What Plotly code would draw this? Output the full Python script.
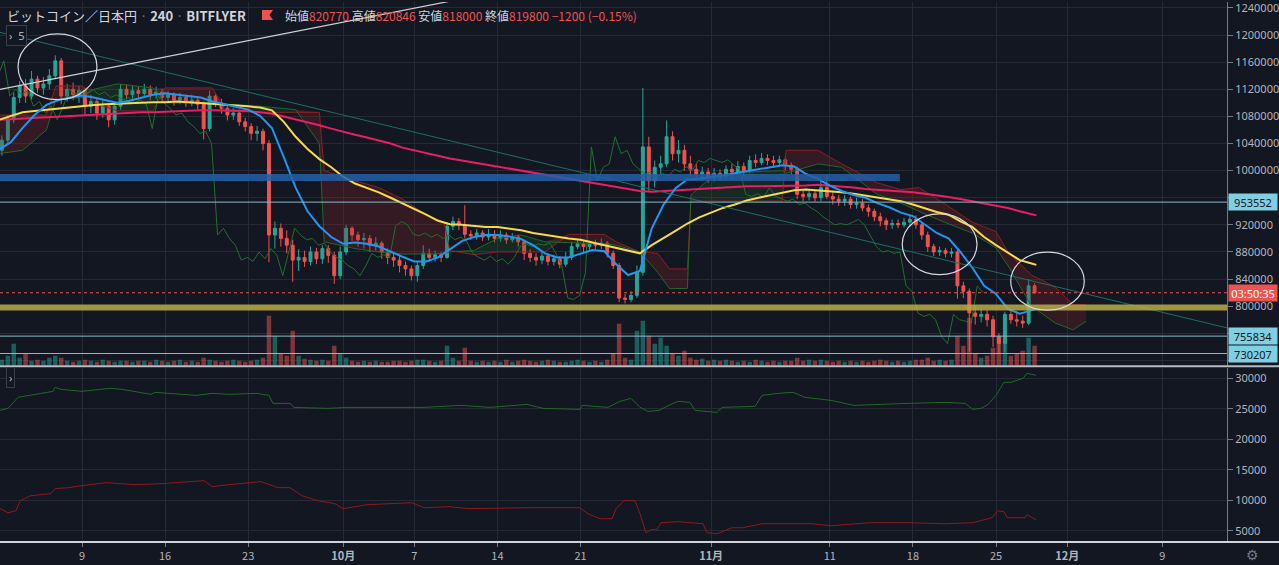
import numpy as np
import pandas as pd
import plotly.graph_objects as go

# ---------------- DATA (prices in thousand JPY) ----------------
# 12-hour candles starting 2019-09-02 00:00 (JST)
opens = [1030, 1045, 1075, 1108, 1125, 1110, 1135, 1122, 1128, 1140,
         1162, 1110, 1120, 1112, 1118, 1095, 1102, 1085, 1095, 1075,
         1095, 1120, 1112, 1118, 1114, 1120, 1112, 1116, 1108, 1112,
         1104, 1108, 1100, 1104, 1098, 1062, 1110, 1100, 1092, 1082,
         1085, 1072, 1065, 1055, 1058, 1040, 905, 915, 900, 890,
         868, 872, 866, 880, 870, 885, 875, 845, 880, 915,
         905, 898, 900, 890, 893, 880, 872, 868, 860, 855,
         845, 860, 878, 872, 876, 872, 918, 925, 920, 906,
         904, 908, 902, 906, 900, 905, 898, 902, 895, 878,
         872, 868, 874, 866, 870, 862, 872, 888, 892, 888,
         892, 890, 893, 878, 860, 812, 810, 816, 850, 1035,
         985, 1005, 1010, 1050, 1025, 1030, 1010, 1002, 995, 998,
         990, 996, 992, 1002, 998, 1006, 1000, 1015, 1012, 1018,
         1015, 1012, 1016, 1008, 1002, 965, 962, 966, 960, 975,
         962, 958, 955, 958, 950, 952, 945, 940, 932, 926,
         920, 922, 920, 924, 928, 920, 905, 888, 880, 882,
         878, 880, 830, 822, 790, 785, 788, 780, 755, 745,
         788, 780, 778, 775, 830]
highs = [1052, 1082, 1115, 1132, 1135, 1147, 1140, 1138, 1150, 1170,
         1166, 1128, 1130, 1125, 1122, 1112, 1108, 1105, 1100, 1102,
         1128, 1127, 1125, 1124, 1128, 1126, 1124, 1120, 1118, 1116,
         1115, 1112, 1112, 1108, 1102, 1118, 1114, 1106, 1098, 1092,
         1090, 1078, 1070, 1066, 1062, 1045, 925, 922, 912, 898,
         884, 882, 888, 886, 890, 890, 880, 888, 920, 918,
         910, 908, 905, 902, 896, 885, 880, 875, 866, 860,
         866, 890, 885, 882, 880, 924, 932, 930, 949, 912,
         914, 912, 914, 912, 912, 909, 908, 906, 898, 884,
         878, 880, 878, 876, 874, 880, 895, 898, 896, 897,
         898, 900, 896, 882, 864, 818, 822, 860, 1122, 1050,
         1015, 1022, 1074, 1058, 1045, 1038, 1022, 1010, 1006, 1004,
         1004, 1002, 1008, 1010, 1014, 1012, 1022, 1024, 1026, 1024,
         1022, 1022, 1020, 1012, 1006, 970, 972, 970, 990, 993,
         968, 964, 964, 962, 960, 958, 950, 944, 938, 930,
         928, 928, 930, 934, 934, 924, 910, 892, 888, 886,
         886, 884, 836, 826, 798, 796, 794, 786, 760, 792,
         795, 790, 786, 840, 834]
lows = [1022, 1040, 1070, 1100, 1100, 1105, 1115, 1112, 1120, 1135,
        1098, 1102, 1104, 1100, 1082, 1085, 1075, 1078, 1064, 1068,
        1090, 1105, 1106, 1105, 1108, 1104, 1106, 1100, 1100, 1096,
        1098, 1094, 1095, 1090, 1046, 1058, 1094, 1084, 1074, 1075,
        1066, 1058, 1045, 1044, 1030, 865, 885, 888, 878, 836,
        852, 858, 860, 862, 862, 864, 833, 840, 875, 896,
        888, 885, 880, 882, 870, 862, 858, 850, 845, 838,
        836, 855, 866, 866, 865, 870, 912, 912, 900, 898,
        898, 896, 897, 894, 895, 892, 894, 888, 868, 865,
        860, 862, 860, 860, 856, 858, 868, 884, 880, 882,
        884, 884, 872, 855, 806, 804, 806, 812, 845, 970,
        975, 995, 1005, 1015, 1012, 1000, 992, 985, 985, 982,
        984, 985, 988, 990, 994, 992, 996, 1005, 1008, 1008,
        1004, 1006, 1000, 995, 958, 955, 956, 954, 955, 958,
        950, 948, 948, 944, 944, 940, 932, 925, 918, 912,
        914, 915, 916, 918, 914, 898, 880, 874, 874, 872,
        872, 811, 812, 733, 773, 776, 770, 740, 730, 732,
        774, 770, 768, 772, 818]
closes = [1045, 1075, 1108, 1125, 1110, 1135, 1122, 1128, 1140, 1162,
          1110, 1120, 1112, 1118, 1095, 1102, 1085, 1095, 1075, 1095,
          1120, 1112, 1118, 1114, 1120, 1112, 1116, 1108, 1112, 1104,
          1108, 1100, 1104, 1098, 1062, 1110, 1100, 1092, 1082, 1085,
          1072, 1065, 1055, 1058, 1040, 905, 915, 900, 890, 868,
          872, 866, 880, 870, 885, 875, 845, 880, 915, 905,
          898, 900, 890, 893, 880, 872, 868, 860, 855, 845,
          860, 878, 872, 876, 872, 918, 925, 920, 906, 904,
          908, 902, 906, 900, 905, 898, 902, 895, 878, 872,
          868, 874, 866, 870, 862, 872, 888, 892, 888, 892,
          890, 893, 878, 860, 812, 810, 816, 850, 1035, 985,
          1005, 1010, 1050, 1025, 1030, 1010, 1002, 995, 998, 990,
          996, 992, 1002, 998, 1006, 1000, 1015, 1012, 1018, 1015,
          1012, 1016, 1008, 1002, 965, 962, 966, 960, 975, 962,
          958, 955, 958, 950, 952, 945, 940, 932, 926, 920,
          922, 920, 924, 928, 920, 905, 888, 880, 882, 878,
          880, 830, 822, 790, 785, 788, 780, 755, 745, 788,
          780, 778, 775, 830, 819.8]
# relative volume per bar
volumes = [6, 10, 22, 8, 12, 5, 6, 5, 8, 10,
           8, 5, 4, 5, 6, 5, 4, 6, 5, 4,
           5, 5, 4, 5, 5, 4, 6, 5, 4, 5,
           6, 4, 5, 4, 8, 6, 5, 4, 5, 6,
           5, 4, 5, 6, 8, 50, 30, 12, 10, 35,
           10, 7, 6, 5, 6, 5, 20, 12, 8, 5,
           4, 5, 4, 5, 4, 4, 5, 5, 4, 5,
           6, 6, 5, 4, 5, 20, 8, 5, 18, 5,
           4, 5, 4, 5, 4, 6, 4, 5, 6, 5,
           4, 5, 6, 5, 4, 4, 5, 6, 5, 4,
           5, 4, 6, 12, 42, 8, 6, 35, 45, 30,
           22, 28, 20, 12, 10, 15, 8, 6, 7, 5,
           6, 5, 6, 5, 4, 5, 4, 6, 5, 4,
           5, 4, 5, 5, 8, 5, 6, 5, 6, 5,
           4, 5, 4, 5, 4, 5, 4, 5, 6, 5,
           4, 5, 4, 5, 6, 6, 8, 5, 6, 5,
           6, 30, 20, 48, 12, 8, 10, 18, 30, 25,
           10, 12, 15, 28, 20]

# moving averages (days after 2019-09-09)
ma_days = list(range(-7, 81)) + [80.4]
ema_fast = [1031, 1042, 1063, 1082, 1097, 1104, 1108,
            1111, 1108, 1104, 1100, 1103, 1108, 1112, 1114, 1112, 1111,
            1108, 1102, 1098, 1094, 1090, 1081, 1063, 1020, 975, 940,
            918, 902, 892, 894, 892, 888, 880, 873, 866, 866,
            872, 884, 896, 902, 905, 905, 903, 899, 890, 878,
            872, 872, 878, 883, 881, 862, 846, 852, 915, 950,
            974, 987, 988, 990, 993, 996, 999, 1002, 1005, 1008,
            1006, 995, 988, 978, 970, 964, 960, 952, 946, 938,
            933, 920, 908, 900, 880, 857, 830, 818, 796, 789,
            794, 796]
ma_mid = [1075, 1080, 1086, 1088, 1090, 1092, 1093,
          1095, 1097, 1098, 1099, 1100, 1100, 1101, 1101, 1102, 1101,
          1100, 1099, 1098, 1097, 1095, 1093, 1089, 1072, 1050, 1032,
          1017, 1005, 991, 981, 975, 968, 960, 952, 943, 935,
          926, 921, 920, 918, 917, 917, 915, 912, 908, 905,
          902, 900, 898, 894, 890, 885, 881, 878, 890, 900,
          911, 922, 931, 938, 945, 950, 956, 960, 964, 968,
          971, 972, 971, 970, 968, 966, 963, 961, 958, 955,
          950, 944, 939, 935, 925, 917, 902, 890, 879, 868,
          863, 861]
ma_slow = [1075, 1076, 1077, 1078, 1079, 1080, 1080,
           1081, 1082, 1083, 1084, 1085, 1086, 1086, 1087, 1088, 1089,
           1089, 1089, 1089, 1089, 1088, 1086, 1084, 1080, 1076, 1072,
           1067, 1062, 1057, 1053, 1049, 1045, 1040, 1034, 1030, 1025,
           1021, 1018, 1015, 1012, 1009, 1006, 1003, 1000, 997, 994,
           991, 988, 985, 982, 979, 976, 973, 970, 969, 970,
           971, 972, 974, 975, 975, 976, 977, 977, 977, 978,
           978, 978, 979, 978, 976, 975, 973, 972, 971, 970,
           968, 966, 964, 961, 958, 955, 952, 949, 945, 940,
           935, 934]

# ichimoku cloud spans (days after 2019-09-09)
cloud_days = [-7, -5, -3, -2.2, 0, 1, 3, 6, 7, 11,
              12, 15, 18, 20, 20.4, 23, 25, 27, 29, 30.5,
              31, 33, 35, 37, 39, 41, 44, 45, 47, 48.5,
              49.5, 51, 51.3, 53, 56, 59, 59.3, 62, 64, 67,
              69, 70.5, 72.5, 75, 77, 78, 80, 82, 83.5, 84.6]
span_a = [1025, 1030, 1060, 1105, 1108, 1120, 1128, 1122, 1100, 1100,
          1098, 1095, 1090, 1040, 895, 885, 880, 877, 877, 878,
          880, 882, 900, 905, 895, 894, 892, 890, 880, 850,
          826, 826, 964, 990, 998, 1000, 996, 1010, 1005, 965,
          952, 940, 925, 908, 886, 860, 800, 775, 765, 778]
span_b = [1082, 1082, 1082, 1125, 1125, 1100, 1088, 1088, 1122, 1122,
          1088, 1086, 1086, 1086, 1000, 985, 975, 958, 935, 924,
          882, 876, 880, 880, 880, 906, 906, 895, 880, 878,
          855, 855, 955, 955, 955, 955, 1030, 1030, 1010, 982,
          972, 975, 953, 924, 910, 880, 846, 828, 802, 802]

# lower pane indicator lines
low_green_days = [-6.91, -6.23, -5.39, -4.47, -3.45, -2.44, -2.27, -1.77, 0, 2.36,
                  3.37, 5.81, 6.15, 9.60, 10.95, 12.38, 14.74, 15.75, 16.09, 17.52,
                  17.86, 20.64, 22.33, 27.80, 28.81, 31.93, 34.37, 37.49, 38.84, 41.95,
                  42.12, 44.31, 45.32, 46.25, 47.01, 47.68, 48.61, 49.62, 50.21, 51.22,
                  51.64, 53.50, 53.92, 56.70, 57.29, 58.64, 59.90, 60.91, 63.10, 65.04,
                  66.98, 69.59, 72.79, 74.39, 75.06, 75.74, 76.33, 77.00, 77.67, 78.27,
                  79.28, 79.61, 80.37]
low_green_vals = [24740, 25070, 26880, 27200, 27530, 27860, 28520, 28190, 27860, 28360,
                  28190, 27370, 27700, 27200, 27530, 27370, 27530, 27200, 25890, 25890,
                  25230, 25070, 25230, 25230, 25230, 25560, 25230, 25720, 25070, 24900,
                  25560, 25230, 26220, 26710, 25230, 24570, 24740, 25720, 26220, 26050,
                  24740, 24400, 25230, 25400, 27200, 27530, 27700, 26880, 26380, 25560,
                  25720, 25890, 26050, 25890, 24900, 25070, 25720, 27200, 29340, 29340,
                  30000, 30820, 30500]
low_red_days = [-6.91, -6.23, -5.56, -5.22, -4.30, -2.61, -2.27, -1.10, 0, 2.02,
                4.47, 6.82, 10.28, 10.95, 12.38, 15.08, 16.51, 17.52, 18.53, 19.88,
                21.31, 21.99, 24.01, 27.80, 28.81, 30.92, 32.60, 37.83, 41.95, 42.63,
                43.64, 44.65, 44.99, 45.66, 46.59, 47.01, 47.51, 47.94, 48.44, 48.78,
                50.21, 52.32, 52.65, 53.50, 54.76, 55.69, 57.29, 61.50, 63.10, 66.39,
                69.59, 72.79, 75.06, 76.66, 77.17, 77.67, 77.93, 79.44, 79.61, 80.37]
low_red_vals = [8620, 7960, 8290, 9930, 10750, 11080, 11900, 12070, 12400, 12890,
                12560, 12730, 13220, 12230, 12560, 13060, 12070, 12070, 10750, 9930,
                9440, 8620, 9270, 9600, 8780, 8950, 8620, 8780, 8780, 7780,
                6970, 6970, 8620, 9930, 9930, 7780, 4670, 5170, 5170, 6320,
                6480, 6150, 4670, 4500, 5490, 5490, 6150, 6150, 5820, 6320,
                6320, 6150, 6320, 7130, 8290, 8120, 7130, 7130, 7630, 6810]

# horizontal price levels (JPY)
level_support_blue = 990000
level_support_yellow = 798000
level_lines = [953552, 755834, 730207]
last_price = 819800
countdown_text = "03:50:35"

# drawings: trend lines (day, price) and ellipses (day0, day1, price0, price1)
trend_teal = [(-6.91, 1204000), (96.46, 768000)]
trend_white = [(-6.91, 1120000), (31.0, 1250000)]
ellipses = [(-5.39, 1.26, 1104800, 1201800),
            (69.1, 75.4, 846500, 936200),
            (78.24, 84.44, 794100, 879800)]

x_tick_dates = ["2019-09-09", "2019-09-16", "2019-09-23", "2019-10-01", "2019-10-07",
                "2019-10-14", "2019-10-21", "2019-11-01", "2019-11-11", "2019-11-18",
                "2019-11-25", "2019-12-01", "2019-12-09"]
x_tick_text = ["9", "16", "23", "<b>10月</b>", "7", "14", "21", "<b>11月</b>",
               "11", "18", "25", "<b>12月</b>", "9"]
price_ticks = list(range(720000, 1240001, 40000))
hidden_price_ticks = [960000, 760000, 720000]
lower_ticks = [5000, 10000, 15000, 20000, 25000, 30000]

# ---------------- helpers ----------------
BASE = pd.Timestamp("2019-09-09 00:00")
BAR0 = pd.Timestamp("2019-09-02 06:00")


def to_dt(days):
    return BASE + pd.to_timedelta(np.asarray(days, dtype=float), unit="D")


n = len(closes)
bar_t = BAR0 + pd.to_timedelta(np.arange(n) * 12, unit="h")
o = np.array(opens) * 1000
h = np.array(highs) * 1000
l = np.array(lows) * 1000
c = np.array(closes) * 1000

BG = "#131722"
GRID = "#262a35"
TXT = "#b2b5be"
UP = "#26a69a"
DOWN = "#ef5350"
PLOT_W, PLOT_H = 1227, 542
FONT = "Noto Sans, Noto Sans CJK JP, sans-serif"
CJK = "Noto Sans CJK JP, Noto Sans, sans-serif"


def pxx(v):
    return v / PLOT_W


def pxy(v):
    return 1 - v / PLOT_H


fig = go.Figure()

# ----- Ichimoku cloud -----
cd = to_dt(cloud_days)
sa = np.array(span_a) * 1000
sb = np.array(span_b) * 1000
top = np.maximum(sa, sb)
fig.add_trace(go.Scatter(x=cd, y=sb, mode="lines", line=dict(color="#8e1f22", width=1),
                         hoverinfo="skip", showlegend=False))
fig.add_trace(go.Scatter(x=cd, y=top, mode="lines", line=dict(width=0), fill="tonexty",
                         fillcolor="rgba(40,110,50,0.22)", hoverinfo="skip", showlegend=False))
fig.add_trace(go.Scatter(x=cd, y=sa, mode="lines", line=dict(color="#1f6a28", width=1),
                         hoverinfo="skip", showlegend=False))
fig.add_trace(go.Scatter(x=cd, y=top, mode="lines", line=dict(width=0), fill="tonexty",
                         fillcolor="rgba(150,35,40,0.25)", hoverinfo="skip", showlegend=False))

# ----- volume -----
vol_colors = ["rgba(38,166,154,0.5)" if cc >= oo else "rgba(239,83,80,0.5)" for oo, cc in zip(o, c)]
fig.add_trace(go.Bar(x=bar_t, y=volumes, marker=dict(color=vol_colors, line=dict(width=0)),
                     yaxis="y3", showlegend=False, hoverinfo="skip"))

# ----- lagging span (close shifted 26 x 4h bars back) -----
fig.add_trace(go.Scatter(x=bar_t - pd.Timedelta(hours=104), y=c, mode="lines",
                         line=dict(color="#22702b", width=1), showlegend=False, hoverinfo="skip"))

# ----- candles -----
fig.add_trace(go.Candlestick(x=bar_t, open=o, high=h, low=l, close=c,
                             increasing=dict(line=dict(color=UP, width=1), fillcolor=UP),
                             decreasing=dict(line=dict(color=DOWN, width=1), fillcolor=DOWN),
                             whiskerwidth=0, showlegend=False, hoverinfo="skip"))

# ----- moving averages -----
md = to_dt(ma_days)
fig.add_trace(go.Scatter(x=md, y=np.array(ma_slow) * 1000, mode="lines",
                         line=dict(color="#e91e63", width=2), showlegend=False, hoverinfo="skip"))
fig.add_trace(go.Scatter(x=md, y=np.array(ma_mid) * 1000, mode="lines",
                         line=dict(color="#f5dc48", width=2), showlegend=False, hoverinfo="skip"))
fig.add_trace(go.Scatter(x=md, y=np.array(ema_fast) * 1000, mode="lines",
                         line=dict(color="#2196f3", width=2), showlegend=False, hoverinfo="skip"))

# ----- trend lines -----
for pts, col, w in [(trend_teal, "#1b6f66", 1), (trend_white, "#cfd2d6", 1.2)]:
    fig.add_trace(go.Scatter(x=to_dt([p[0] for p in pts]), y=[p[1] for p in pts], mode="lines",
                             line=dict(color=col, width=w), showlegend=False, hoverinfo="skip"))

# ----- lower pane -----
fig.add_trace(go.Scatter(x=to_dt(low_green_days), y=low_green_vals, mode="lines",
                         line=dict(color="#1f6a24", width=1), xaxis="x2", yaxis="y2",
                         showlegend=False, hoverinfo="skip"))
fig.add_trace(go.Scatter(x=to_dt(low_red_days), y=low_red_vals, mode="lines",
                         line=dict(color="#8e1a1a", width=1), xaxis="x2", yaxis="y2",
                         showlegend=False, hoverinfo="skip"))

# ---------------- layout ----------------
x_left = to_dt([-6.908])[0]
x_right = to_dt([96.46])[0]
main_dom = [1 - 365 / PLOT_H, 1]
low_dom = [0, 1 - 367 / PLOT_H]

shapes = []
# thick support bands
shapes.append(dict(type="line", xref="x", yref="y", x0=x_left, x1=to_dt([68.9])[0],
                   y0=level_support_blue, y1=level_support_blue,
                   line=dict(color="rgba(36,96,165,0.85)", width=7)))
shapes.append(dict(type="line", xref="paper", yref="y", x0=0, x1=1,
                   y0=level_support_yellow, y1=level_support_yellow,
                   line=dict(color="rgba(185,172,70,0.85)", width=6)))
for lv in level_lines:
    shapes.append(dict(type="line", xref="paper", yref="y", x0=0, x1=1, y0=lv, y1=lv,
                       line=dict(color="#8cb9c8", width=1)))
shapes.append(dict(type="line", xref="paper", yref="y", x0=0, x1=1, y0=last_price, y1=last_price,
                   line=dict(color=DOWN, width=1, dash="dot")))
for d0, d1, p0, p1 in ellipses:
    shapes.append(dict(type="circle", xref="x", yref="y", x0=to_dt([d0])[0], x1=to_dt([d1])[0],
                       y0=p0, y1=p1, line=dict(color="#d6d8dc", width=1.2)))
# pane separators
shapes.append(dict(type="line", xref="paper", yref="paper", x0=0, x1=1279 / PLOT_W,
                   y0=pxy(365.5), y1=pxy(365.5), line=dict(color="#b8bbc2", width=2)))
shapes.append(dict(type="line", xref="paper", yref="paper", x0=0, x1=1279 / PLOT_W,
                   y0=pxy(542), y1=pxy(542), line=dict(color="#d1d4dc", width=2)))
# flag icon in the header
fx0, fx1, fy0, fy1 = pxx(262), pxx(273), pxy(8), pxy(18)
fxm, fym = pxx(269.5), pxy(13)
shapes.append(dict(type="path", xref="paper", yref="paper",
                   path=f"M {fx0} {fy0} L {fx1} {fy0} L {fxm} {fym} L {fx1} {fy1} L {fx0} {fy1} Z",
                   fillcolor=DOWN, line=dict(width=0)))

annotations = []
annotations.append(dict(xref="paper", yref="paper", x=pxx(5), y=pxy(14), xanchor="left",
                        yanchor="middle", showarrow=False,
                        text='ビットコイン／日本円 <span style="color:#787b86">·</span> <b>240</b> '
                             '<span style="color:#787b86">·</span> <b>BITFLYER</b>',
                        font=dict(family=CJK, size=13, color="#d1d4dc")))
ohlc = [("始値", "820770"), ("高値", "820846"), ("安値", "818000"), ("終値", "819800")]
ohlc_txt = " ".join(f'{k}<span style="color:{DOWN}">{v}</span>' for k, v in ohlc)
ohlc_txt += f' <span style="color:{DOWN}">−1200 (−0.15%)</span>'
annotations.append(dict(xref="paper", yref="paper", x=pxx(283), y=pxy(14), xanchor="left",
                        yanchor="middle", showarrow=False, text=ohlc_txt,
                        font=dict(family=CJK, size=12, color="#d1d4dc")))
annotations.append(dict(xref="paper", yref="paper", x=pxx(6), y=pxy(34), xanchor="left",
                        yanchor="middle", showarrow=False, text="›  5",
                        font=dict(family=FONT, size=11, color=TXT), bgcolor=BG,
                        bordercolor="#3a3e4a", borderwidth=1, borderpad=2))
annotations.append(dict(xref="paper", yref="paper", x=pxx(6), y=pxy(377), xanchor="left",
                        yanchor="middle", showarrow=False, text="›",
                        font=dict(family=FONT, size=11, color=TXT), bgcolor=BG,
                        bordercolor="#3a3e4a", borderwidth=1, borderpad=2))
for lv in level_lines:
    annotations.append(dict(xref="paper", yref="y", x=1, y=lv, xanchor="left", yanchor="middle",
                            xshift=1, showarrow=False, text=str(lv), bgcolor="#80d0e2",
                            font=dict(family=FONT, size=11, color="#131722"), width=46, height=14))
annotations.append(dict(xref="paper", yref="y", x=1, y=last_price, xanchor="left", yanchor="middle",
                        xshift=1, showarrow=False, text=countdown_text, bgcolor=DOWN,
                        font=dict(family=FONT, size=11, color="#ffffff"), width=46, height=14))
annotations.append(dict(xref="paper", yref="paper", x=1252 / PLOT_W, y=pxy(555), xanchor="center",
                        yanchor="middle", showarrow=False, text="⚙",
                        font=dict(family="DejaVu Sans", size=14, color="#787b86")))

price_text = ["" if v in hidden_price_ticks else str(v) for v in price_ticks]

axis_common = dict(showgrid=True, gridcolor=GRID, gridwidth=1, zeroline=False)
fig.update_layout(
    width=1279, height=565,
    margin=dict(l=0, r=52, t=0, b=23),
    paper_bgcolor=BG, plot_bgcolor=BG,
    showlegend=False, hovermode=False,
    bargap=0.25,
    xaxis=dict(type="date", range=[x_left, x_right], domain=[0, 1], anchor="y",
               tickvals=pd.to_datetime(x_tick_dates), ticktext=x_tick_text,
               showticklabels=False, rangeslider=dict(visible=False), **axis_common),
    xaxis2=dict(type="date", range=[x_left, x_right], domain=[0, 1], anchor="y2", matches="x",
                tickvals=pd.to_datetime(x_tick_dates), ticktext=x_tick_text,
                tickfont=dict(family=CJK, size=11, color=TXT),
                ticks="outside", ticklen=4, tickcolor="#787b86", **axis_common),
    yaxis=dict(domain=main_dom, range=[712270, 1248820], side="right", anchor="x",
               tickvals=price_ticks, ticktext=price_text, ticks="outside", ticklen=5,
               tickcolor="#787b86", showline=True, linecolor="#787b86", linewidth=1,
               ticklabeloverflow="allow",
               tickfont=dict(family=FONT, size=11, color=TXT), **axis_common),
    yaxis2=dict(domain=low_dom, range=[3154, 31748], side="right", anchor="x2",
                tickvals=lower_ticks, ticktext=[str(v) for v in lower_ticks], ticks="outside",
                ticklen=5, tickcolor="#787b86", showline=True, linecolor="#787b86", linewidth=1,
                ticklabeloverflow="allow",
                tickfont=dict(family=FONT, size=11, color=TXT), **axis_common),
    yaxis3=dict(overlaying="y", range=[0, 365], visible=False, showgrid=False),
    shapes=shapes, annotations=annotations,
)

fig.write_html("out.html", config={"displayModeBar": False},
               post_script="document.body.style.margin='0';document.body.style.background='#131722';")
